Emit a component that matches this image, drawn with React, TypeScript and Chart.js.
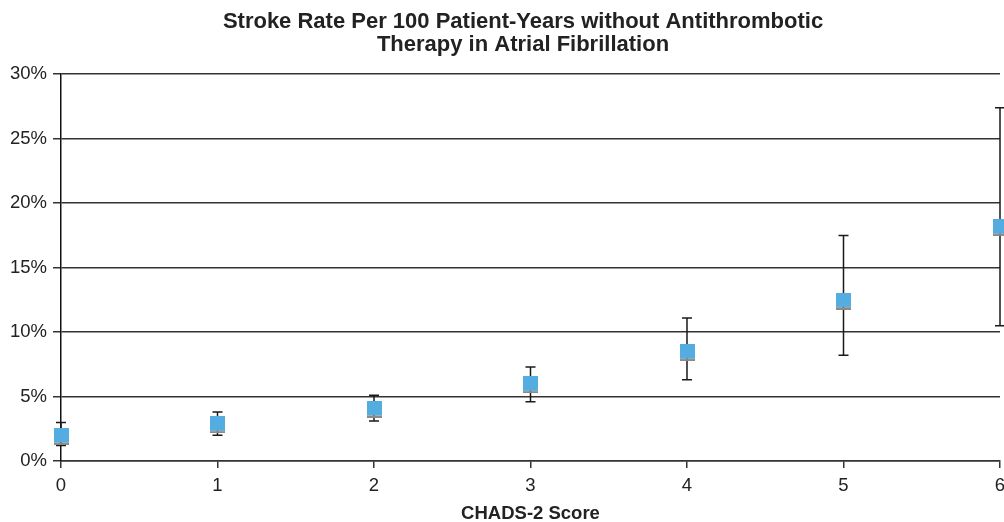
import React, { useEffect, useRef } from "react";
import { Chart, registerables } from "chart.js";

Chart.register(...registerables);

const chadsScores = [0, 1, 2, 3, 4, 5, 6];
const strokeRate = [1.9, 2.8, 4.0, 5.9, 8.4, 12.4, 18.1];
const ciLow = [1.2, 2.0, 3.1, 4.6, 6.3, 8.2, 10.5];
const ciHigh = [3.0, 3.8, 5.1, 7.3, 11.1, 17.5, 27.4];
const yMin = 0;
const yMax = 30;
const yStep = 5;
const titleLines = [
  "Stroke Rate Per 100 Patient-Years without Antithrombotic",
  "Therapy in Atrial Fibrillation",
];
const xTitle = "CHADS-2 Score";

const TEXT = "#222222";
const GRID = "#333333";
const MARKER_BLUE = "#53ADE0";
const MARKER_SHADE = "#8a8a8a";
const FONT = "'Liberation Sans', Arial, Helvetica, sans-serif";

const errorBarPlugin = {
  id: "errorBars",
  beforeDatasetsDraw(chart: any) {
    const { ctx, scales } = chart;
    const x = scales.x;
    const y = scales.y;
    ctx.save();
    ctx.strokeStyle = "#1a1a1a";
    ctx.lineWidth = 1.5;
    chadsScores.forEach((s, i) => {
      const px = x.getPixelForValue(s);
      const top = y.getPixelForValue(ciHigh[i]);
      const bot = y.getPixelForValue(ciLow[i]);
      ctx.beginPath();
      ctx.moveTo(px, top);
      ctx.lineTo(px, bot);
      ctx.moveTo(px - 5, top);
      ctx.lineTo(px + 5, top);
      ctx.moveTo(px - 5, bot);
      ctx.lineTo(px + 5, bot);
      ctx.stroke();
    });
    ctx.restore();
  },
};

function makeMarker(): HTMLCanvasElement {
  const c = document.createElement("canvas");
  c.width = 15;
  c.height = 17;
  const g = c.getContext("2d")!;
  g.fillStyle = MARKER_BLUE;
  g.fillRect(0, 0, 15, 14.5);
  g.fillStyle = MARKER_SHADE;
  g.fillRect(0, 14.5, 15, 2.5);
  return c;
}

export default function App() {
  const ref = useRef<HTMLCanvasElement>(null);

  useEffect(() => {
    if (!ref.current) return;
    const marker = makeMarker();
    const chart = new Chart(ref.current, {
      type: "scatter",
      data: {
        datasets: [
          {
            data: chadsScores.map((s, i) => ({ x: s, y: strokeRate[i] })),
            pointStyle: marker as any,
            pointRadius: 8,
            clip: false as any,
          },
        ],
      },
      options: {
        responsive: false,
        animation: false,
        layout: { padding: { left: 0, right: 0, top: 0, bottom: 0 } },
        plugins: {
          legend: { display: false },
          tooltip: { enabled: false },
          title: {
            display: true,
            text: titleLines,
            color: TEXT,
            font: {
              family: FONT,
              size: 22,
              weight: "bold",
              lineHeight: "22.6px",
            },
            padding: { top: 11, bottom: 18 },
          },
        },
        scales: {
          x: {
            type: "linear",
            min: 0,
            max: 6,
            ticks: {
              stepSize: 1,
              color: TEXT,
              font: { family: FONT, size: 18.5 },
              padding: 7,
            },
            grid: {
              drawOnChartArea: false,
              drawTicks: true,
              tickLength: 7,
              color: GRID,
              lineWidth: 1.5,
            },
            border: { display: true, color: GRID, width: 1.5 },
            title: {
              display: true,
              text: xTitle,
              color: TEXT,
              font: { family: FONT, size: 18.5, weight: "bold", lineHeight: 0.85 },
              padding: { top: 2, bottom: 0 },
            },
          },
          y: {
            min: yMin,
            max: yMax,
            ticks: {
              stepSize: yStep,
              color: TEXT,
              font: { family: FONT, size: 18.5 },
              padding: 6,
              callback: (v: any) => `${v}%`,
            },
            grid: {
              color: GRID,
              lineWidth: 1.5,
              tickLength: 8,
            },
            border: { display: true, color: "#111111", width: 1.5 },
            afterFit: (s: any) => {
              s.width = 61;
            },
          } as any,
          y2: {
            position: "right",
            display: true,
            grid: { display: false },
            ticks: { display: false },
            border: { display: false },
            afterFit: (s: any) => {
              s.width = 46;
            },
          } as any,
        },
      },
      plugins: [errorBarPlugin],
    });
    return () => chart.destroy();
  }, []);

  return (
    <div
      style={{
        position: "absolute",
        left: 0,
        top: 0,
        width: 1004,
        height: 522,
        overflow: "hidden",
        background: "#ffffff",
      }}
    >
      <canvas ref={ref} width={1046} height={522} style={{ display: "block" }} />
    </div>
  );
}
